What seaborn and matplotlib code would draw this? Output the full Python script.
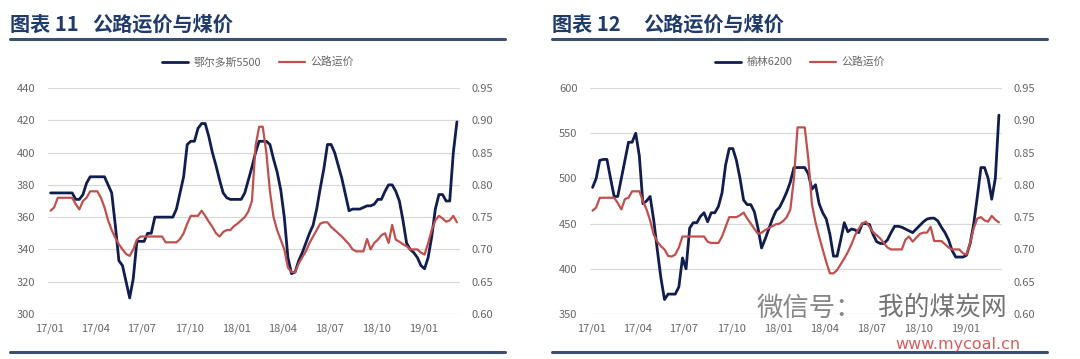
import numpy as np
import pandas as pd
import seaborn as sns
import matplotlib.pyplot as plt
import matplotlib.dates as mdates
from matplotlib.lines import Line2D
from matplotlib.ticker import FormatStrFormatter

sns.set_style("white")
plt.rcParams['font.family'] = ['Noto Sans CJK SC', 'DejaVu Sans']

W, H = 1080, 359

# weekly observations, Jan 2017 - Mar 2019
weeks = pd.date_range('2017-01-04', periods=114, freq='7D')

# chart 11: Ordos 5500 (yuan/t) vs road freight (yuan/t.km)
ordos_5500 = [
    375, 375, 375, 375, 375, 375, 375, 371, 371, 374, 381,
    385, 385, 385, 385, 385, 380, 375, 355, 333, 330, 320, 310, 322,
    345, 345, 345, 350, 350, 360, 360, 360, 360, 360, 360, 365, 375, 385,
    405, 407, 407, 415, 418, 418, 410, 400, 392, 383, 375, 372,
    371, 371, 371, 371, 375, 383, 391, 400, 407, 407, 407, 405,
    396, 388, 377, 360, 335, 325, 326, 333, 338, 344, 350, 355,
    365, 378, 390, 405, 405, 400, 392, 384, 374, 364,
    365, 365, 365, 366, 367, 367, 368, 371, 371, 376, 380, 380, 376, 370,
    358, 344, 340, 338, 335, 330, 328, 335, 348, 365, 374, 374, 370, 370,
    400, 419,
]
freight_11 = [
    0.76, 0.765, 0.78, 0.78, 0.78, 0.78, 0.78, 0.77, 0.762, 0.775, 0.78,
    0.79, 0.79, 0.79, 0.78, 0.765,
    0.745, 0.73, 0.718, 0.708, 0.70, 0.693, 0.69, 0.70,
    0.715, 0.72, 0.72, 0.72, 0.72, 0.72, 0.72, 0.72,
    0.711, 0.711, 0.711, 0.711, 0.716, 0.725,
    0.74, 0.752, 0.752, 0.752, 0.76, 0.752,
    0.743, 0.735, 0.725, 0.72, 0.727, 0.73,
    0.73, 0.736, 0.74, 0.745, 0.75, 0.759,
    0.775, 0.86, 0.89, 0.89, 0.85, 0.79,
    0.75, 0.73, 0.715, 0.70, 0.672, 0.665, 0.665,
    0.678, 0.688, 0.697, 0.71, 0.72, 0.73, 0.74,
    0.742, 0.742, 0.735, 0.73, 0.725, 0.72, 0.714, 0.708,
    0.70, 0.697, 0.697, 0.697, 0.716, 0.70, 0.71,
    0.715, 0.722, 0.725, 0.71, 0.738, 0.715, 0.712,
    0.708, 0.705, 0.70, 0.70, 0.70, 0.695, 0.692,
    0.71, 0.73, 0.745, 0.752, 0.748, 0.743, 0.745, 0.752, 0.742,
]

# chart 12: Yulin 6200 vs road freight
yulin_6200 = [
    490, 500, 520, 521, 521, 500, 480,
    480, 500, 520, 540, 540, 550, 525,
    472, 475, 480, 454, 421, 390, 366,
    372, 372, 372, 380, 412, 400, 445,
    451, 451, 458, 462, 452, 462, 462,
    469, 484, 515, 533, 533, 520, 500,
    476, 471, 471, 463, 445, 423, 433,
    444, 455, 464, 468, 476, 485, 496,
    512, 512, 512, 512, 505, 488, 493,
    472, 462, 455, 438, 414, 414, 432,
    451, 441, 444, 443, 440, 450, 450,
    449, 438, 430, 428, 428, 432, 440,
    447, 447, 446, 444, 442, 440, 444,
    448, 452, 455, 456, 456, 453, 446,
    440, 432, 420, 413, 413, 413, 415,
    428, 450, 480, 512, 512, 500, 477, 500, 570,
]
freight_12 = [
    0.76, 0.765, 0.78, 0.78, 0.78, 0.78, 0.78,
    0.772, 0.762, 0.778, 0.78, 0.79, 0.79, 0.79,
    0.775, 0.762, 0.745, 0.723, 0.712, 0.705, 0.70,
    0.69, 0.689, 0.692, 0.703, 0.72, 0.72, 0.72,
    0.72, 0.72, 0.72, 0.72, 0.712, 0.71, 0.71,
    0.71, 0.72, 0.735, 0.75, 0.75, 0.75, 0.753,
    0.757, 0.748, 0.74, 0.732, 0.724, 0.726, 0.73,
    0.733, 0.736, 0.739, 0.74, 0.744, 0.75, 0.762,
    0.81, 0.889, 0.889, 0.889, 0.84, 0.77, 0.742,
    0.72, 0.70, 0.68, 0.663, 0.663, 0.668, 0.677,
    0.686, 0.696, 0.708, 0.722, 0.732, 0.74, 0.743,
    0.735, 0.727, 0.722, 0.717, 0.71, 0.703, 0.70,
    0.70, 0.70, 0.70, 0.715, 0.72, 0.712, 0.718,
    0.724, 0.726, 0.726, 0.735, 0.713, 0.713, 0.713,
    0.708, 0.703, 0.70, 0.70, 0.70, 0.694, 0.692,
    0.71, 0.733, 0.748, 0.75, 0.745, 0.743, 0.752, 0.746, 0.742,
]

NAVY = '#111d4f'
RED = '#c0504d'
GREY = '#666666'
TITLE = '#1f3a6b'
RULE = '#3c4f6e'


def fx(x):
    return x / W


def fy(y):
    return 1 - y / H


def draw_panel(fig, x0, coal, freight, coal_name, num, left_ticks, legend_cx, title_gap):
    ax = fig.add_axes([fx(x0), fy(314), fx(412), 226 / H])
    ax2 = ax.twinx()
    df = pd.DataFrame({'date': weeks, 'coal': coal, 'freight': freight})
    sns.lineplot(data=df, x='date', y='coal', ax=ax, color=NAVY, lw=2.0, legend=False)
    sns.lineplot(data=df, x='date', y='freight', ax=ax2, color=RED, lw=1.6, legend=False)

    ax.set_xlim(pd.Timestamp('2016-12-30'), pd.Timestamp('2019-03-12'))
    ax.set_ylim(left_ticks[0], left_ticks[-1])
    ax.set_yticks(left_ticks)
    ax2.set_ylim(0.60, 0.95)
    ax2.set_yticks(np.arange(0.60, 0.951, 0.05))
    ax2.yaxis.set_major_formatter(FormatStrFormatter('%.2f'))
    ax.xaxis.set_major_locator(mdates.MonthLocator(bymonth=[1, 4, 7, 10]))
    ax.xaxis.set_major_formatter(mdates.DateFormatter('%y/%m'))
    ax.grid(axis='y', color='#d9d9d9', lw=0.9)
    ax.grid(axis='x', visible=False)
    for a in (ax, ax2):
        a.set_xlabel('')
        a.set_ylabel('')
        for s in a.spines.values():
            s.set_visible(False)
        a.tick_params(length=0, labelsize=8, labelcolor=GREY)
    ax.tick_params(axis='y', pad=9)
    ax.tick_params(axis='x', pad=7)
    ax2.tick_params(axis='y', pad=8)

    handles = [Line2D([], [], color=NAVY, lw=2.0), Line2D([], [], color=RED, lw=1.6)]
    ax.legend(handles, [coal_name, '公路运价'], loc='center', ncol=2, frameon=False,
              bbox_to_anchor=(fx(legend_cx), fy(62)), bbox_transform=fig.transFigure,
              fontsize=7.8, labelcolor=GREY, handlelength=2.4, handletextpad=0.5,
              columnspacing=1.6)

    # panel header and rules
    left = x0 - 38
    fig.text(fx(left), fy(24), f'图表 {num}', fontsize=14.5, fontweight='bold',
             color=TITLE, va='center', ha='left')
    fig.text(fx(left + title_gap), fy(24), '公路运价与煤价', fontsize=14.5,
             fontweight='bold', color=TITLE, va='center', ha='left')
    for yy in (38.5, 352):
        fig.add_artist(Line2D([fx(left), fx(left + 495)], [fy(yy), fy(yy)],
                              transform=fig.transFigure, color=RULE, lw=2.2))
    return ax


fig = plt.figure(figsize=(W / 100, H / 100), dpi=100)
draw_panel(fig, 48, ordos_5500, freight_11, '鄂尔多斯5500', 11,
           np.arange(300, 441, 20), 258, 82)
draw_panel(fig, 590, yulin_6200, freight_12, '榆林6200', 12,
           np.arange(350, 601, 50), 800, 91)

# watermark of the source
fig.text(fx(757), fy(308), '微信号：', fontsize=19, color='#555555', alpha=0.7,
         va='center', ha='left')
fig.text(fx(878), fy(308), '我的煤炭网', fontsize=18.5, color='#444444', alpha=0.75,
         va='center', ha='left')
fig.text(fx(895), fy(344), 'www.mycoal.cn', fontsize=11.5, color='#d04040', alpha=0.85,
         va='center', ha='left', family=['DejaVu Sans'])

fig.savefig('out.png', dpi=100, facecolor='white')
